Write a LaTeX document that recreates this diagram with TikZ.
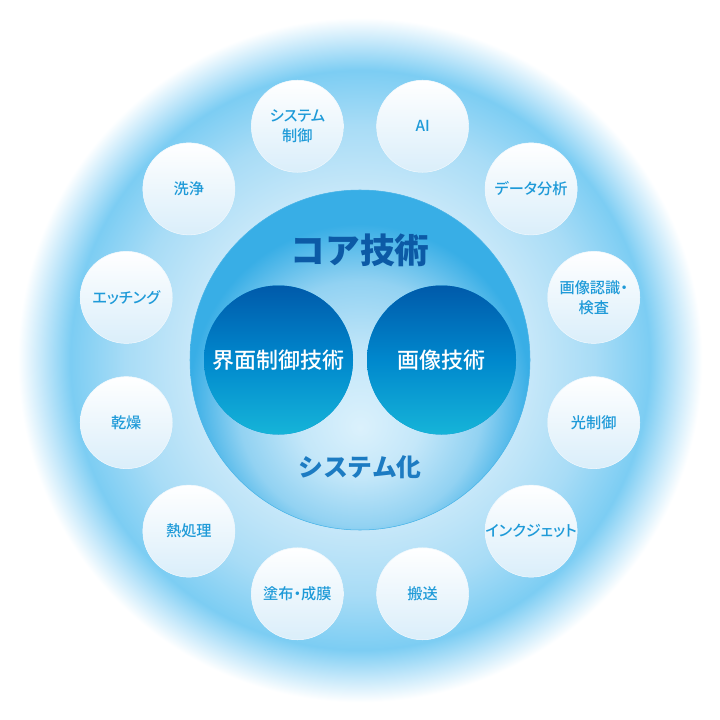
\documentclass[tikz,border=0pt]{standalone}
\usepackage{fontspec}
\usepackage{xcolor}
\newfontfamily\jp{Noto Sans CJK JP}
\newfontfamily\jpmed{Noto Sans CJK JP}[UprightFont=* Medium, RawFeature=+palt]

\definecolor{glowA}{HTML}{D6EEFB}
\definecolor{glowB}{HTML}{C8E8F9}
\definecolor{glowC}{HTML}{A8DCF6}
\definecolor{glowD}{HTML}{7CCDF3}
\definecolor{glowE}{HTML}{C2E7FA}
\definecolor{coreA}{HTML}{DBF1FC}
\definecolor{coreB}{HTML}{C4E7F9}
\definecolor{coreC}{HTML}{92D2F2}
\definecolor{coreD}{HTML}{38AEE6}
\definecolor{techA}{HTML}{005AAA}
\definecolor{techB}{HTML}{0088CD}
\definecolor{techC}{HTML}{16B4D8}
\definecolor{fieldB}{HTML}{DAEEFA}
\definecolor{fieldText}{HTML}{1E9AD8}
\definecolor{coreText}{HTML}{0C5AA6}
\definecolor{sysText}{HTML}{1C7BC2}

\pgfdeclareradialshading{outerglow}{\pgfpoint{0bp}{0bp}}{%
  color(0bp)=(glowA); color(12bp)=(glowB); color(17bp)=(glowC);
  color(21bp)=(glowD); color(23bp)=(glowE); color(24.8bp)=(white);
  color(50bp)=(white)}
\pgfdeclareradialshading{coreglow}{\pgfpoint{0bp}{-10bp}}{%
  color(0bp)=(coreA); color(9bp)=(coreB); color(18bp)=(coreC);
  color(25bp)=(coreD); color(50bp)=(coreD)}
\pgfdeclareverticalshading{techdisc}{100bp}{%
  color(0bp)=(techC); color(25bp)=(techC); color(50bp)=(techB);
  color(75bp)=(techA); color(100bp)=(techA)}

\tikzset{
  field/.style={circle, inner sep=0pt, minimum size=69pt, fill=fieldB!50!white,
    draw=fieldB!45!white, line width=0.4pt, top color=white, bottom color=fieldB},
  fieldlabel/.style={inner sep=0pt, text=fieldText, align=center,
    font=\jpmed\fontsize{11.4}{15}\selectfont},
  tech/.style={circle, inner sep=0pt, minimum size=111.75pt, fill=techB,
    shading=techdisc, text=white, font=\jpmed\fontsize{16.5}{20}\selectfont},
}

\begin{document}
\begin{tikzpicture}[x=0.75pt,y=0.75pt,yscale=-1,xscale=1]
\useasboundingbox (0,0) rectangle (720,720);

%Outer glow
\shade[shading=outerglow] (360,360) circle [radius=345];
%Core circle
\fill[coreD!80!coreC] (360,360) circle [radius=170];
\shade[shading=coreglow] (360,360) circle [radius=170];
\draw[coreD!75!coreC, line width=0.4pt] (360,360) circle [radius=170];

%Core technologies
\node[tech] (iface) at (278.5,360) {界面制御技術};
\node[tech] (image) at (441.5,360) {画像技術};

% Text Node
\node[text=coreText, font=\jp\bfseries\fontsize{26}{30}\selectfont] (core) at (360,250) {コア技術};
% Text Node
\node[text=sysText, font=\jp\bfseries\fontsize{18.6}{22}\selectfont] (sys) at (360,467) {システム化};

%Application fields
\foreach \a/\t [count=\i] in {75/AI, 45/データ分析, 15/{画像認識・\\検査}, -15/光制御,
    -45/インクジェット, -75/搬送, -105/塗布・成膜, -135/熱処理, -165/乾燥,
    165/エッチング, 135/洗浄, 105/{システム\\制御}}
{
  \node[field] (f\i) at ({360+242*cos(\a)},{360-242*sin(\a)}) {};
  \node[fieldlabel] (l\i) at (f\i) {\t};
}

\end{tikzpicture}
\end{document}
